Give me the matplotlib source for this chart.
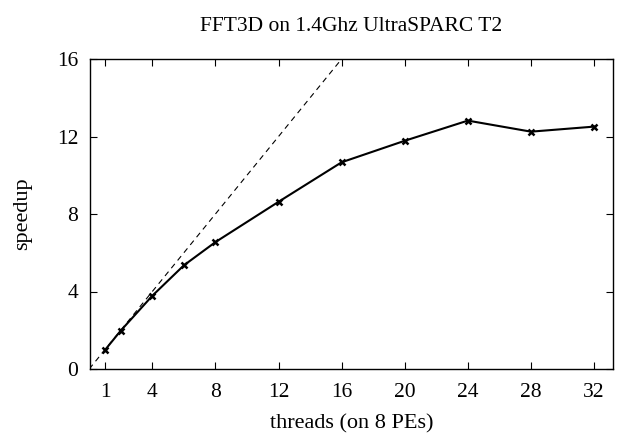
import matplotlib
matplotlib.use("Agg")
import matplotlib.pyplot as plt

threads = [1, 2, 4, 6, 8, 12, 16, 20, 24, 28, 32]
speedup = [0.98, 1.98, 3.78, 5.35, 6.55, 8.63, 10.67, 11.78, 12.82, 12.25, 12.51]
ideal_x = [0, 16]
ideal_y = [0, 16]
xticks = [1, 4, 8, 12, 16, 20, 24, 28, 32]
yticks = [0, 4, 8, 12, 16]

plt.rcParams['font.family'] = ['Liberation Serif', 'DejaVu Serif']

fig = plt.figure(figsize=(6.24, 4.43), dpi=100)
ax = fig.add_axes([90/624, 1-369/443, (613-90)/624, (369-59)/443])

ax.plot(ideal_x, ideal_y, color='black', lw=0.8, ls=(0, (5, 4)))
ax.plot(threads, speedup, color='black', lw=1.5, marker='x', ms=4.5, mew=1.8)

ax.set_xlim(0.05, 33.2)
ax.set_ylim(0, 16)
ax.set_xticks(xticks)
ax.set_yticks(yticks)
ax.tick_params(direction='in', top=True, right=True, length=5, width=0.8,
               labelsize=15.5)
ax.tick_params(axis='x', pad=10)
ax.tick_params(axis='y', pad=8.5)
for s in ax.spines.values():
    s.set_linewidth(1.0)

ax.set_xlabel('threads (on 8 PEs)', fontsize=16, labelpad=9)
ax.set_ylabel('speedup', fontsize=16, labelpad=18)
ax.set_title('FFT3D on 1.4Ghz UltraSPARC T2', fontsize=15.5, pad=20)

fig.savefig('out.png', dpi=100)
